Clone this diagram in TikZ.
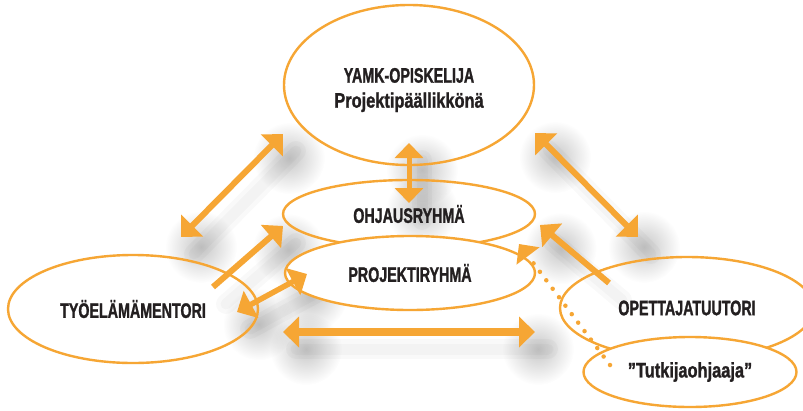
\documentclass[tikz,border=0pt]{standalone}
\usepackage{fontspec}
\setmainfont{Liberation Sans}[FakeStretch=0.68, BoldFeatures={FakeBold=1.2}]
\newfontfamily\lowfont{Liberation Sans}[FakeStretch=0.78, BoldFeatures={FakeBold=1.2}]
\usetikzlibrary{arrows.meta,shapes.geometric,fadings,calc}
\definecolor{orng}{HTML}{F6A634}
\definecolor{ink}{HTML}{231F20}
\tikzfading[name=softspot, inner color=transparent!0, outer color=transparent!100]

\begin{document}
\begin{tikzpicture}[x=1pt,y=-1pt,
  bubble/.style={ellipse, draw=orng, line width=2.4pt, inner sep=0pt,
    font=\bfseries\fontsize{21}{25}\selectfont, text=ink, align=center},
  caption/.style={font=\bfseries\fontsize{21}{25}\selectfont, text=ink, align=center, inner sep=0pt},
  link/.style={draw=orng, line width=6pt},
  twoway/.style={link, {Triangle[length=16pt,width=30pt]}-{Triangle[length=16pt,width=30pt]}},
  oneway/.style={link, -{Triangle[length=16pt,width=30pt]}},
  shaftshade/.style={black, opacity=0.025, line cap=round},
  tipshade/.style={black, opacity=0.22, path fading=softspot}
]
% canvas
\fill[white] (0,0) rectangle (803,410);
\useasboundingbox (0,0) rectangle (803,410);

% end points of the connectors
\coordinate (lu1) at (181,237);  \coordinate (lu2) at (283,134);
\coordinate (cv1) at (409,143);  \coordinate (cv2) at (409,203);
\coordinate (to1) at (213,287);  \coordinate (to2) at (283,226);
\coordinate (tp1) at (237,312);  \coordinate (tp2) at (307,274);
\coordinate (hz1) at (283,332);  \coordinate (hz2) at (535,332);
\coordinate (ru1) at (535,133);  \coordinate (ru2) at (638,237);
\coordinate (oo1) at (609,283);  \coordinate (oo2) at (540,225);
\coordinate (dt1) at (610,365);  \coordinate (dt2) at (519,244);

% soft drop shadows under the arrows
\foreach \a/\b in {lu1/lu2, cv1/cv2, to1/to2, tp1/tp2, hz1/hz2, ru1/ru2, oo1/oo2} {
  \draw[shaftshade, line width=20pt] ($(\a)+(13,17)$) -- ($(\b)+(13,17)$);
  \draw[shaftshade, line width=11pt] ($(\a)+(13,17)$) -- ($(\b)+(13,17)$);
  \fill[tipshade] ($(\b)!10pt!(\a)+(13,17)$) circle (36);
}
\foreach \a/\b in {lu1/lu2, cv1/cv2, tp1/tp2, hz1/hz2, ru1/ru2} {
  \fill[tipshade] ($(\a)!10pt!(\b)+(13,17)$) circle (36);
}

% the parties
\node[bubble, minimum width=252pt, minimum height=68pt] (ohj) at (409,214) {OHJAUSRYHMÄ};
\node[bubble, minimum width=250pt, minimum height=160pt] (yamk) at (409,85) {};
\node[caption] (yamktext) at (409,90) {YAMK-OPISKELIJA\\{\lowfont Projektipäällikkönä}};
\node[bubble, minimum width=250pt, minimum height=108pt] (tyo) at (133,309) {TYÖELÄMÄMENTORI};
\node[bubble, minimum width=254pt, minimum height=102pt] (opet) at (687,308) {OPETTAJATUUTORI};
\node[bubble, fill=white, minimum width=250pt, minimum height=74pt] (proj) at (410,273) {PROJEKTIRYHMÄ};
\node[bubble, fill=white, minimum width=213pt, minimum height=70pt] (tut) at (690,372)
  {{\lowfont ”Tutkijaohjaaja”}};

% connectors
\draw[twoway] (lu1) -- (lu2);
\draw[twoway, line width=5pt, {Triangle[length=15pt,width=28pt]}-{Triangle[length=15pt,width=28pt]}] (cv1) -- (cv2);
\draw[oneway] (to1) -- (to2);
\draw[twoway, line width=5.5pt] (tp1) -- (tp2);
\draw[twoway, line width=7.5pt] (hz1) -- (hz2);
\draw[twoway] (ru1) -- (ru2);
\draw[oneway] (oo1) -- (oo2);
\draw[orng, line width=4.5pt, line cap=round, dash pattern=on 0pt off 10.6pt,
  -{Triangle[length=15pt,width=28pt]}] (dt1) -- (dt2);
\end{tikzpicture}
\end{document}
